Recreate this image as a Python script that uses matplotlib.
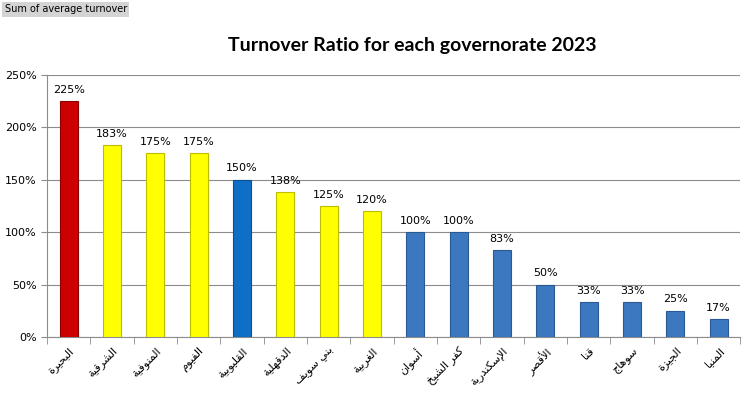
import matplotlib.pyplot as plt

governorates = ['البحيرة', 'الشرقية', 'المنوفية', 'الفيوم', 'القليوبية', 'الدقهلية',
                'بني سويف', 'الغربية', 'أسوان', 'كفر الشيخ', 'الإسكندرية', 'الأقصر',
                'قنا', 'سوهاج', 'الجيزة', 'المنيا']
turnover = [225, 183, 175, 175, 150, 138, 125, 120, 100, 100, 83, 50, 33, 33, 25, 17]
bar_colors = ['#CC0000'] + ['#FFFF00'] * 3 + ['#0F6FC6'] + ['#FFFF00'] * 3 + ['#3C78C0'] * 8
edge_colors = ['#8B0000'] + ['#BDBD00'] * 3 + ['#0A4F8F'] + ['#BDBD00'] * 3 + ['#2A5A94'] * 8
y_ticks = [0, 50, 100, 150, 200, 250]

# matplotlib has no arabic shaping, so pick the presentation forms by hand
# (isolated, final, initial, medial)
FORMS = {
    'ا': ('\uFE8D', '\uFE8E', None, None), 'أ': ('\uFE83', '\uFE84', None, None),
    'إ': ('\uFE87', '\uFE88', None, None), 'ة': ('\uFE93', '\uFE94', None, None),
    'د': ('\uFEA9', '\uFEAA', None, None), 'ر': ('\uFEAD', '\uFEAE', None, None),
    'ز': ('\uFEAF', '\uFEB0', None, None), 'و': ('\uFEED', '\uFEEE', None, None),
    'ب': ('\uFE8F', '\uFE90', '\uFE91', '\uFE92'), 'ج': ('\uFE9D', '\uFE9E', '\uFE9F', '\uFEA0'),
    'ح': ('\uFEA1', '\uFEA2', '\uFEA3', '\uFEA4'), 'خ': ('\uFEA5', '\uFEA6', '\uFEA7', '\uFEA8'),
    'س': ('\uFEB1', '\uFEB2', '\uFEB3', '\uFEB4'), 'ش': ('\uFEB5', '\uFEB6', '\uFEB7', '\uFEB8'),
    'ص': ('\uFEB9', '\uFEBA', '\uFEBB', '\uFEBC'), 'غ': ('\uFECD', '\uFECE', '\uFECF', '\uFED0'),
    'ف': ('\uFED1', '\uFED2', '\uFED3', '\uFED4'), 'ق': ('\uFED5', '\uFED6', '\uFED7', '\uFED8'),
    'ك': ('\uFED9', '\uFEDA', '\uFEDB', '\uFEDC'), 'ل': ('\uFEDD', '\uFEDE', '\uFEDF', '\uFEE0'),
    'م': ('\uFEE1', '\uFEE2', '\uFEE3', '\uFEE4'), 'ن': ('\uFEE5', '\uFEE6', '\uFEE7', '\uFEE8'),
    'ه': ('\uFEE9', '\uFEEA', '\uFEEB', '\uFEEC'), 'ي': ('\uFEF1', '\uFEF2', '\uFEF3', '\uFEF4'),
}
LAM_ALEF = {'ا': ('\uFEFB', '\uFEFC'), 'أ': ('\uFEF7', '\uFEF8'), 'إ': ('\uFEF9', '\uFEFA')}


def dual(ch):
    return ch in FORMS and FORMS[ch][2] is not None


def shape(word):
    out = []
    i = 0
    while i < len(word):
        ch = word[i]
        prev = word[i - 1] if i > 0 else ''
        if ch not in FORMS:
            out.append(ch)
            i += 1
            continue
        joins_prev = dual(prev)
        nxt = word[i + 1] if i + 1 < len(word) else ''
        if ch == 'ل' and nxt in LAM_ALEF:
            out.append(LAM_ALEF[nxt][1 if joins_prev else 0])
            i += 2
            continue
        joins_next = dual(ch) and nxt in FORMS
        iso, fin, ini, med = FORMS[ch]
        if joins_prev and joins_next:
            out.append(med)
        elif joins_prev:
            out.append(fin)
        elif joins_next:
            out.append(ini)
        else:
            out.append(iso)
        i += 1
    return ''.join(out)[::-1]


fig = plt.figure(figsize=(7.52, 3.96), dpi=100)
ax = fig.add_axes([0.0625, 0.149, 0.922, 0.662])

x = range(len(governorates))
bars = ax.bar(x, turnover, width=0.42, color=bar_colors, edgecolor=edge_colors,
              linewidth=0.8, zorder=3)
for rect, val in zip(bars, turnover):
    ax.text(rect.get_x() + rect.get_width() / 2, val + 6, f'{val}%',
            ha='center', va='bottom', fontsize=8, family='DejaVu Sans')

ax.set_xlim(-0.5, len(governorates) - 0.5)
ax.set_ylim(0, 250)
ax.set_yticks(y_ticks)
ax.set_yticklabels([f'{t}%' for t in y_ticks], fontsize=8)
ax.yaxis.grid(True, color='#8C8C8C', linewidth=0.8, zorder=0)

ax.set_xticks(list(x))
ax.set_xticklabels([shape(g) for g in governorates], rotation=45, ha='right',
                   rotation_mode='anchor', fontsize=8, family='DejaVu Sans')
ax.tick_params(axis='x', length=0, pad=6)
ax.set_xticks([i + 0.5 for i in range(-1, len(governorates))], minor=True)
ax.tick_params(axis='x', which='minor', length=5, color='#8C8C8C')
ax.tick_params(axis='y', length=4, color='#8C8C8C')

for side in ['top', 'right']:
    ax.spines[side].set_visible(False)
for side in ['left', 'bottom']:
    ax.spines[side].set_color('#8C8C8C')

fig.text(0.548, 0.886, 'Turnover Ratio for each governorate 2023', ha='center',
         va='center', fontsize=14, fontweight='bold', family='Lato')
fig.text(0.006, 0.977, 'Sum of average turnover', ha='left', va='center', fontsize=7,
         bbox=dict(boxstyle='square,pad=0.25', facecolor='#D4D4D4', edgecolor='none'))

fig.savefig('out.png', dpi=100)
